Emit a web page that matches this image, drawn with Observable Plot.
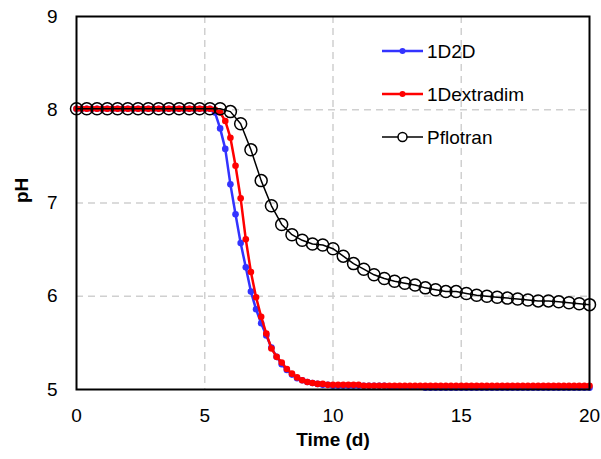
<!DOCTYPE html>
<html>
<head>
<meta charset="utf-8">
<script src="https://cdn.jsdelivr.net/npm/d3@7"></script>
<script src="https://cdn.jsdelivr.net/npm/@observablehq/plot@0.6"></script>
<style>
  body { margin: 0; background: #fff; }
  #wrap { position: relative; width: 601px; height: 459px; font-family: "Liberation Sans", Arial, sans-serif; }
  #legend { position: absolute; left: 0; top: 0; pointer-events: none; }
</style>
</head>
<body>
<div id="wrap"></div>
<script>
// Time samples (d)
const time02 = [0,0.2,0.4,0.6,0.8,1,1.2,1.4,1.6,1.8,2,2.2,2.4,2.6,2.8,3,3.2,3.4,3.6,3.8,4,4.2,4.4,4.6,4.8,5,5.2,
  5.4,5.6,5.8,6,6.2,6.4,6.6,6.8,7,7.2,7.4,7.6,7.8,8,8.2,8.4,8.6,8.8,9,9.2,9.4,9.6,9.8,
  10,10.2,10.4,10.6,10.8,11,11.2,11.4,11.6,11.8,12,12.2,12.4,12.6,12.8,13,13.2,13.4,
  13.6,13.8,14,14.2,14.4,14.6,14.8,15,15.2,15.4,15.6,15.8,16,16.2,16.4,16.6,16.8,17,17.2,17.4,17.6,17.8,18,18.2,18.4,18.6,18.8,19,19.2,19.4,19.6,19.8,20];
const time04 = [0,0.4,0.8,1.2,1.6,2,2.4,2.8,3.2,3.6,4,4.4,4.8,5.2,
  5.6,6,6.4,6.8,7.2,7.6,8,8.4,8.8,9.2,9.6,10,10.4,10.8,11.2,11.6,12,12.4,12.8,13.2,13.6,14,14.4,14.8,
  15.2,15.6,16,16.4,16.8,17.2,17.6,18,18.4,18.8,19.2,19.6,20];

// pH series
const ph1D2D = [8.01,8.01,8.01,8.01,8.01,8.01,8.01,8.01,8.01,8.01,8.01,8.01,8.01,8.01,8.01,8.01,8.01,8.01,8.01,8.01,8.01,8.01,8.01,8.01,8.01,8.01,8.01,
  7.97,7.80,7.58,7.20,6.88,6.57,6.31,6.05,5.86,5.71,5.58,5.45,5.35,5.27,5.21,5.16,5.12,5.10,5.08,5.07,5.06,5.05,5.05,
  5.04,5.04,5.04,5.04,5.04,5.04,5.04,5.04,5.04,5.04,5.04,5.03,5.03,5.03,5.03,5.03,5.03,5.03,
  5.02,5.02,5.02,5.02,5.02,5.02,5.02,5.02,5.02,5.02,5.02,5.02,5.02,5.02,5.02,5.02,5.02,5.02,5.02,5.02,5.02,5.02,5.02,5.02,5.02,5.02,5.02,5.02,5.02,5.02,5.02,5.02,5.02];
const ph1Dextradim = [8.01,8.01,8.01,8.01,8.01,8.01,8.01,8.01,8.01,8.01,8.01,8.01,8.01,8.01,8.01,8.01,8.01,8.01,8.01,8.01,8.01,8.01,8.01,8.01,8.01,8.01,8.01,
  8.00,7.97,7.88,7.70,7.40,7.05,6.61,6.26,5.99,5.78,5.60,5.44,5.35,5.29,5.22,5.17,5.13,5.10,5.08,5.07,5.06,5.06,5.05,
  5.05,5.05,5.05,5.05,5.05,5.05,
  5.04,5.04,5.04,5.04,5.04,5.04,5.04,5.04,5.04,5.04,5.04,5.04,5.04,5.04,5.04,5.04,5.04,5.04,5.04,5.04,5.04,5.04,5.04,5.04,5.04,5.04,5.04,5.04,5.04,5.04,5.04,5.04,5.04,5.04,5.04,5.04,5.04,5.04,5.04,5.04,5.04,5.04,5.04,5.04,5.04];
const phPflotran = [8.01,8.01,8.01,8.01,8.01,8.01,8.01,8.01,8.01,8.01,8.01,8.01,8.01,8.01,
  8.01,7.98,7.85,7.57,7.24,6.97,6.77,6.66,6.60,6.56,6.55,6.51,6.43,6.35,6.29,6.23,6.19,6.16,6.14,6.12,6.09,6.07,6.05,6.05,
  6.03,6.01,6.00,5.99,5.98,5.97,5.96,5.95,5.95,5.94,5.93,5.92,5.91];

// Axis ticks and labels
const xTicks = [0,5,10,15,20];
const yTicks = [5,6,7,8,9];
const xGrid = [5,10,15];
const yGrid = [6,7,8];
const seriesNames = ["1D2D","1Dextradim","Pflotran"];
const seriesColors = ["#3333ff","#ff0000","#000000"];

const d1 = time02.map((t,i)=>({t, pH: ph1D2D[i]}));
const d2 = time02.map((t,i)=>({t, pH: ph1Dextradim[i]}));
const d3s = time04.map((t,i)=>({t, pH: phPflotran[i]}));

const chart = Plot.plot({
  width: 601,
  height: 459,
  marginLeft: 76,
  marginRight: 12,
  marginTop: 16,
  marginBottom: 70,
  style: {fontFamily: "'Liberation Sans', Arial, sans-serif", fontSize: "19px", color: "#000", background: "#fff"},
  x: {domain: [0,20]},
  y: {domain: [5,9]},
  marks: [
    Plot.gridX(xGrid, {stroke: "#d0d0d0", strokeOpacity: 1, strokeWidth: 1.5, strokeDasharray: "7,5"}),
    Plot.gridY(yGrid, {stroke: "#d0d0d0", strokeOpacity: 1, strokeWidth: 1.5, strokeDasharray: "7,5"}),
    Plot.line(d1, {x: "t", y: "pH", stroke: seriesColors[0], strokeWidth: 2.5}),
    Plot.dot(d1, {x: "t", y: "pH", fill: seriesColors[0], r: 3.3}),
    Plot.line(d2, {x: "t", y: "pH", stroke: seriesColors[1], strokeWidth: 2.5}),
    Plot.dot(d2, {x: "t", y: "pH", fill: seriesColors[1], r: 3.3}),
    Plot.line(d3s, {x: "t", y: "pH", stroke: seriesColors[2], strokeWidth: 1.5}),
    Plot.dot(d3s, {x: "t", y: "pH", stroke: seriesColors[2], fill: "none", strokeWidth: 1.5, r: 6}),
    Plot.frame({stroke: "#000", strokeWidth: 2}),
    Plot.axisX(xTicks, {tickSize: 0, tickPadding: 19, label: null, fontSize: 19, tickFormat: d => String(d)}),
    Plot.axisY(yTicks, {tickSize: 0, tickPadding: 19, label: null, fontSize: 19, tickFormat: d => String(d)}),
    Plot.text(["Time (d)"], {frameAnchor: "bottom", dy: 56, fontWeight: "bold", fontSize: 19}),
    Plot.text(["pH"], {frameAnchor: "left", dx: -55, rotate: -90, fontWeight: "bold", fontSize: 19})
  ]
});
const wrap = document.getElementById("wrap");
wrap.appendChild(chart);

// Legend (inside plot area, top right)
const ns = "http://www.w3.org/2000/svg";
const lg = document.createElementNS(ns, "svg");
lg.setAttribute("id", "legend");
lg.setAttribute("width", 601);
lg.setAttribute("height", 459);
const rowY = [51, 94, 137];
seriesNames.forEach((name, i) => {
  const y = rowY[i];
  const line = document.createElementNS(ns, "line");
  line.setAttribute("x1", 382); line.setAttribute("x2", 423);
  line.setAttribute("y1", y); line.setAttribute("y2", y);
  line.setAttribute("stroke", seriesColors[i]);
  line.setAttribute("stroke-width", i < 2 ? 2.5 : 1.5);
  lg.appendChild(line);
  const c = document.createElementNS(ns, "circle");
  c.setAttribute("cx", 402.5); c.setAttribute("cy", y);
  if (i < 2) { c.setAttribute("r", 3); c.setAttribute("fill", seriesColors[i]); }
  else { c.setAttribute("r", 4.5); c.setAttribute("fill", "#fff"); c.setAttribute("stroke", "#000"); c.setAttribute("stroke-width", 1.5); }
  lg.appendChild(c);
  const tx = document.createElementNS(ns, "text");
  tx.setAttribute("x", 427); tx.setAttribute("y", y);
  tx.setAttribute("dy", "0.36em");
  tx.setAttribute("font-size", 19);
  tx.setAttribute("font-family", "'Liberation Sans', Arial, sans-serif");
  tx.textContent = name;
  lg.appendChild(tx);
});
wrap.appendChild(lg);
</script>
</body>
</html>
